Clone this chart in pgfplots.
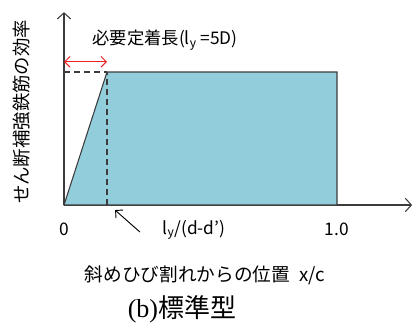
\documentclass[border=0pt]{standalone}
\usepackage{fontspec}
\setmainfont{Noto Sans CJK JP}
\newfontfamily\serifb{Liberation Serif}
\usepackage{pgfplots}
\pgfplotsset{compat=1.18}
\usetikzlibrary{arrows.meta}
\definecolor{effFill}{HTML}{92CDDC}
\definecolor{effEdge}{HTML}{3C3C3C}
\definecolor{lenRed}{HTML}{F01E1E}

\begin{document}
\begin{tikzpicture}
\begin{axis}[
  at={(0,0)}, anchor=south west,
  scale only axis, width=261.07pt, height=144.64pt,
  xmin=0, xmax=1.275, ymin=0, ymax=1.45,
  axis lines=left,
  axis line style={line width=0.8pt, color=effEdge, -{Straight Barb[length=4.5pt,width=10pt]}},
  xtick={0,1}, xticklabels={0,1.0},
  ytick=\empty,
  major tick length=0pt,
  x tick label style={font=\fontsize{13}{15}\selectfont, yshift=-10pt},
  clip=false,
]
% efficiency shape: ramp up to the anchorage length, flat to x/c = 1
\addplot[fill=effFill, draw=effEdge, line width=0.8pt] coordinates {(0,0) (0.1575,1) (1,1) (1,0)} -- cycle;
\addplot[draw=effEdge, line width=0.8pt, dash pattern=on 4.5pt off 3pt] coordinates {(0,1) (0.1575,1)};
\addplot[draw=effEdge, line width=0.8pt, dash pattern=on 4.5pt off 3pt] coordinates {(0.1575,0) (0.1575,1)};
\addplot[draw=lenRed, line width=0.7pt, {Straight Barb[length=4pt,width=8pt]}-{Straight Barb[length=4pt,width=8pt]}] coordinates {(0,1.077) (0.1575,1.077)};
\addplot[draw=black, line width=0.7pt, -{Straight Barb[length=4pt,width=8pt]}] coordinates {(0.278,-0.203) (0.187,-0.038)};

\node[font=\fontsize{13}{15}\selectfont] at (axis cs:0.37,1.24) {必要定着長(l\textsubscript{y} =5D)};
\node[font=\fontsize{13}{15}\selectfont] at (axis cs:0.476,-0.188) {l\textsubscript{y}/(d-d’)};
\node[font=\fontsize{13.8}{16}\selectfont, rotate=90] at (axis cs:-0.154,0.70) {せん断補強鉄筋の効率};
\node[font=\fontsize{14}{16}\selectfont] at (axis cs:0.516,-0.526) {斜めひび割れからの位置\enspace x/c};
\node[font=\fontsize{19.5}{22}\selectfont] at (axis cs:0.432,-0.782) {{\serifb (b)}標準型};
\end{axis}
\useasboundingbox (-48pt,-91.5pt) rectangle (261.75pt,153.75pt);
\end{tikzpicture}
\end{document}
